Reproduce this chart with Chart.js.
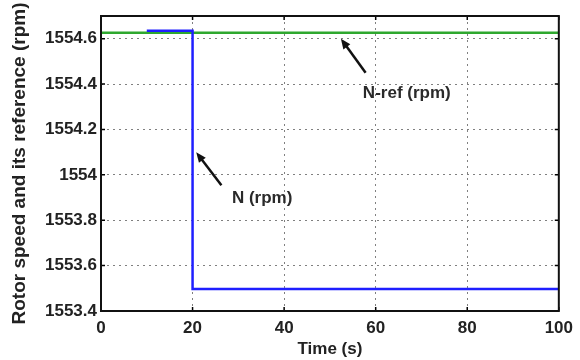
<!DOCTYPE html>
<html>
<head>
<meta charset="utf-8">
<script src="https://cdn.jsdelivr.net/npm/chart.js@4/dist/chart.umd.min.js"></script>
<style>
  html, body { margin: 0; padding: 0; background: #fff; }
</style>
</head>
<body>
<canvas id="speedChart" width="580" height="360"></canvas>
<script>
// Dati
const refTime = [0, 100];
const refSpeed = [1554.626, 1554.626];
const nTime = [10, 20, 20, 100];
const nSpeed = [1554.635, 1554.635, 1553.497, 1553.497];

const xTicks = [0, 20, 40, 60, 80, 100];
const yTicks = [1553.4, 1553.6, 1553.8, 1554.0, 1554.2, 1554.4, 1554.6];
const xRange = [0, 100];
const yRange = [1553.4, 1554.7];

// Frecce e etichette (coordinate in unità dei dati)
const notes = [
  { text: "N-ref (rpm)", from: [57.8, 1554.45], to: [52.4, 1554.6], label: [57.2, 1554.358] },
  { text: "N (rpm)", from: [26.3, 1553.954], to: [20.8, 1554.1], label: [28.6, 1553.897] },
];

const FONT = "'Liberation Sans', Arial, Helvetica, sans-serif";

const toPoints = (xs, ys) => xs.map((x, i) => ({ x, y: ys[i] }));

const frameAndNotes = {
  id: "frameAndNotes",
  afterDraw(chart) {
    const { ctx, chartArea: a, scales } = chart;
    ctx.save();

    // tacche verso l'interno
    ctx.strokeStyle = "#000";
    ctx.lineWidth = 1.5;
    ctx.beginPath();
    xTicks.forEach((t) => {
      const px = scales.x.getPixelForValue(t);
      ctx.moveTo(px, a.bottom);
      ctx.lineTo(px, a.bottom - 4);
      ctx.moveTo(px, a.top);
      ctx.lineTo(px, a.top + 4);
    });
    yTicks.forEach((t) => {
      const py = scales.y.getPixelForValue(t);
      ctx.moveTo(a.left, py);
      ctx.lineTo(a.left + 4, py);
      ctx.moveTo(a.right, py);
      ctx.lineTo(a.right - 4, py);
    });
    ctx.stroke();

    // cornice
    ctx.lineWidth = 2;
    ctx.strokeStyle = "#111";
    ctx.strokeRect(a.left, a.top, a.right - a.left, a.bottom - a.top);

    // frecce
    notes.forEach((n) => {
      const x1 = scales.x.getPixelForValue(n.from[0]);
      const y1 = scales.y.getPixelForValue(n.from[1]);
      const x2 = scales.x.getPixelForValue(n.to[0]);
      const y2 = scales.y.getPixelForValue(n.to[1]);
      const ang = Math.atan2(y2 - y1, x2 - x1);
      const head = 11;
      ctx.strokeStyle = "#111";
      ctx.fillStyle = "#111";
      ctx.lineWidth = 2.5;
      ctx.beginPath();
      ctx.moveTo(x1, y1);
      ctx.lineTo(x2 - Math.cos(ang) * head * 0.8, y2 - Math.sin(ang) * head * 0.8);
      ctx.stroke();
      ctx.beginPath();
      ctx.moveTo(x2, y2);
      ctx.lineTo(x2 - head * Math.cos(ang - 0.4), y2 - head * Math.sin(ang - 0.4));
      ctx.lineTo(x2 - head * Math.cos(ang + 0.4), y2 - head * Math.sin(ang + 0.4));
      ctx.closePath();
      ctx.fill();

      ctx.font = "bold 17px " + FONT;
      ctx.fillStyle = "#2a2a2a";
      ctx.textAlign = "left";
      ctx.textBaseline = "middle";
      ctx.fillText(
        n.text,
        scales.x.getPixelForValue(n.label[0]),
        scales.y.getPixelForValue(n.label[1]),
      );
    });

    ctx.restore();
  },
};

new Chart(document.getElementById("speedChart"), {
  type: "line",
  data: {
    datasets: [
      {
        label: "N (rpm)",
        data: toPoints(nTime, nSpeed),
        borderColor: "#1f1fff",
        borderWidth: 2.5,
        pointRadius: 0,
        tension: 0,
        fill: false,
        order: 0,
      },
      {
        label: "N-ref (rpm)",
        data: toPoints(refTime, refSpeed),
        borderColor: "#2fa82f",
        borderWidth: 2.5,
        pointRadius: 0,
        tension: 0,
        fill: false,
        order: 1,
      },
    ],
  },
  options: {
    responsive: false,
    animation: false,
    layout: { padding: { top: 16, right: 19, left: 0, bottom: 0 } },
    plugins: { legend: { display: false }, tooltip: { enabled: false } },
    scales: {
      x: {
        type: "linear",
        min: xRange[0],
        max: xRange[1],
        afterBuildTicks: (s) => {
          s.ticks = xTicks.map((v) => ({ value: v }));
        },
        afterFit: (s) => {
          s.height = 49;
        },
        grid: { color: "#808080", lineWidth: 1, drawTicks: false },
        border: { display: false, dash: [2, 4] },
        ticks: {
          color: "#222",
          padding: 7,
          maxRotation: 0,
          font: { family: FONT, size: 17, weight: "bold" },
        },
        title: {
          display: true,
          text: "Time (s)",
          color: "#222",
          padding: { top: 0, bottom: 0 },
          font: { family: FONT, size: 17, weight: "bold" },
        },
      },
      y: {
        type: "linear",
        min: yRange[0],
        max: yRange[1],
        afterBuildTicks: (s) => {
          s.ticks = yTicks.map((v) => ({ value: v }));
        },
        afterFit: (s) => {
          s.width = 101;
        },
        grid: { color: "#808080", lineWidth: 1, drawTicks: false },
        border: { display: false, dash: [2, 4] },
        ticks: {
          color: "#222",
          padding: 4,
          font: { family: FONT, size: 17, weight: "bold" },
          callback: (v) => String(+Number(v).toFixed(1)),
        },
        title: {
          display: true,
          text: "Rotor speed and its reference (rpm)",
          color: "#222",
          padding: { top: 8, bottom: 0 },
          font: { family: FONT, size: 19, weight: "bold" },
        },
      },
    },
  },
  plugins: [frameAndNotes],
});
</script>
</body>
</html>
